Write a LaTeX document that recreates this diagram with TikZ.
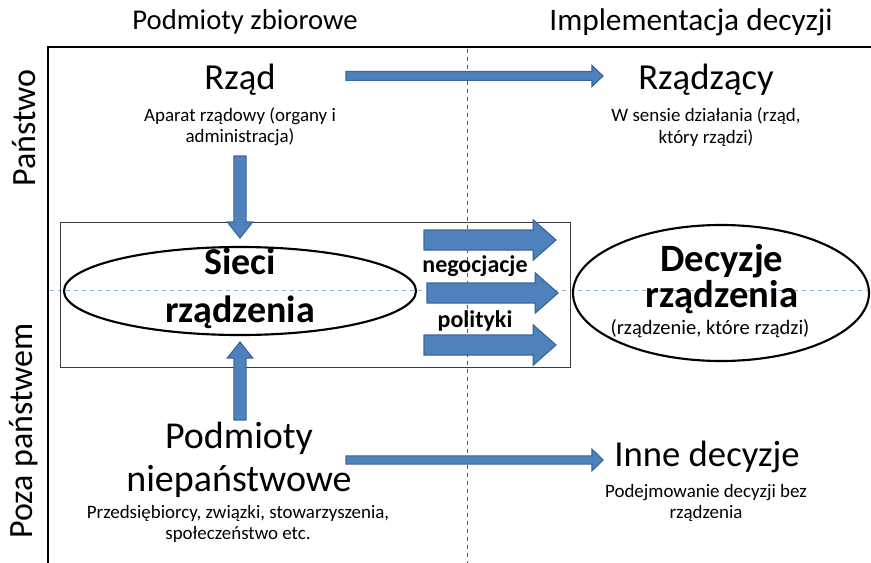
\documentclass[tikz,border=0pt]{standalone}
\usepackage{fontspec}
\setmainfont{Carlito}
\usetikzlibrary{calc}

\definecolor{arrblue}{HTML}{4F81BD}
\definecolor{arredge}{HTML}{3B679D}
\definecolor{midblue}{HTML}{8DB3E2}
\definecolor{midgray}{HTML}{555555}

\tikzset{
    headtext/.style = {font=\fontsize{21.5}{25}\selectfont},
    sidetext/.style = {font=\fontsize{25.5}{30}\selectfont, rotate=90},
    bigtext/.style = {font=\fontsize{27.5}{31}\selectfont, align=center},
    boldtext/.style = {font=\bfseries\fontsize{28.5}{36}\selectfont, align=center},
    smalltext/.style = {font=\fontsize{14.2}{16}\selectfont, align=center},
    midtext/.style = {font=\bfseries\fontsize{18}{21}\selectfont},
    blockarr/.style = {fill=arrblue, draw=arredge, line width=0.9pt, line join=miter}
}

% tail, tip, half shaft, half head, head length
\newcommand{\blockarrow}[5]{%
    \coordinate (ba-n) at ($(#2)!#5!(#1)$);
    \draw [blockarr] ($(#1)!#3!90:(#2)$) -- ($(ba-n)!#3!-90:(#1)$)
        -- ($(ba-n)!#4!-90:(#1)$) -- (#2) -- ($(ba-n)!#4!90:(#1)$)
        -- ($(ba-n)!#3!90:(#1)$) -- ($(#1)!#3!-90:(#2)$) -- cycle;
}

\begin{document}
\begin{tikzpicture}[x=0.75pt, y=-0.75pt]
    \useasboundingbox (0, 0) rectangle (871, 563);

    % frame and guide lines
    \draw [line width=2.2pt] (48, 563) -- (48, 47) -- (871, 47);
    \draw [midgray, dashed, line width=0.6pt] (467, 49) -- (467, 563);
    \draw [midblue, dashed, line width=0.6pt] (50, 290) -- (871, 290);

    % headers
    \node [headtext] (hleft) at (245, 22) {Podmioty zbiorowe};
    \node [headtext, font=\fontsize{23.5}{25}\selectfont] (hright) at (691, 22) {Implementacja decyzji};
    \node [sidetext] (panstwo) at (24, 128) {Państwo};
    \node [sidetext] (poza) at (24, 431) {Poza państwem};

    % box round the networks
    \draw [line width=0.6pt, midgray!70!black] (60, 222) rectangle (570, 367);

    % ellipses
    \draw [line width=1.6pt] (240, 291) ellipse [x radius=176, y radius=44];
    \draw [line width=1.6pt] (721, 293) ellipse [x radius=148, y radius=68];
    \node [boldtext] (sieci) at (240, 288) {Sieci\\rządzenia};
    \node [boldtext, font=\bfseries\fontsize{29}{27.5}\selectfont] (decyzje) at (722, 279) {Decyzje\\rządzenia};
    \node [smalltext, font=\fontsize{15.4}{17}\selectfont] (decsub) at (710, 329) {(rządzenie, które rządzi)};

    % top row
    \node [bigtext] (rzad) at (240, 80) {Rząd};
    \node [smalltext] (rzadsub) at (240, 127) {Aparat rządowy (organy i\\administracja)};
    \node [bigtext] (rzadzacy) at (706, 80) {Rządzący};
    \node [smalltext] (rzadzacysub) at (706, 127) {W sensie działania (rząd,\\który rządzi)};

    % bottom row
    \node [bigtext, font=\fontsize{28.5}{32}\selectfont] (podmioty) at (239, 460) {Podmioty\\niepaństwowe};
    \node [smalltext] (podmiotysub) at (238, 524) {Przedsiębiorcy, związki, stowarzyszenia,\\społeczeństwo etc.};
    \node [bigtext] (inne) at (707, 457) {Inne decyzje};
    \node [smalltext] (innesub) at (706, 503) {Podejmowanie decyzji bez\\rządzenia};

    % middle labels
    \node [midtext] (negocjacje) at (475, 266) {negocjacje};
    \node [midtext] (polityki) at (475, 321) {polityki};

    % arrow ends
    \coordinate (a1) at (346, 76);  \coordinate (b1) at (603, 76);
    \coordinate (a2) at (346, 460); \coordinate (b2) at (603, 460);
    \coordinate (a3) at (240, 156); \coordinate (b3) at (240, 238);
    \coordinate (a4) at (240, 420); \coordinate (b4) at (240, 342);
    \coordinate (a5) at (424, 240); \coordinate (b5) at (556, 240);
    \coordinate (a6) at (427, 293); \coordinate (b6) at (558, 293);
    \coordinate (a7) at (424, 345); \coordinate (b7) at (556, 345);

    \blockarrow{a1}{b1}{3.3pt}{7.9pt}{8.3pt}
    \blockarrow{a2}{b2}{3.1pt}{8.2pt}{8.3pt}
    \blockarrow{a3}{b3}{4.6pt}{9.5pt}{12pt}
    \blockarrow{a4}{b4}{4.6pt}{9.5pt}{12pt}
    \blockarrow{a5}{b5}{7.5pt}{15pt}{17pt}
    \blockarrow{a6}{b6}{7.5pt}{15pt}{17pt}
    \blockarrow{a7}{b7}{7.5pt}{15pt}{17pt}
\end{tikzpicture}
\end{document}
